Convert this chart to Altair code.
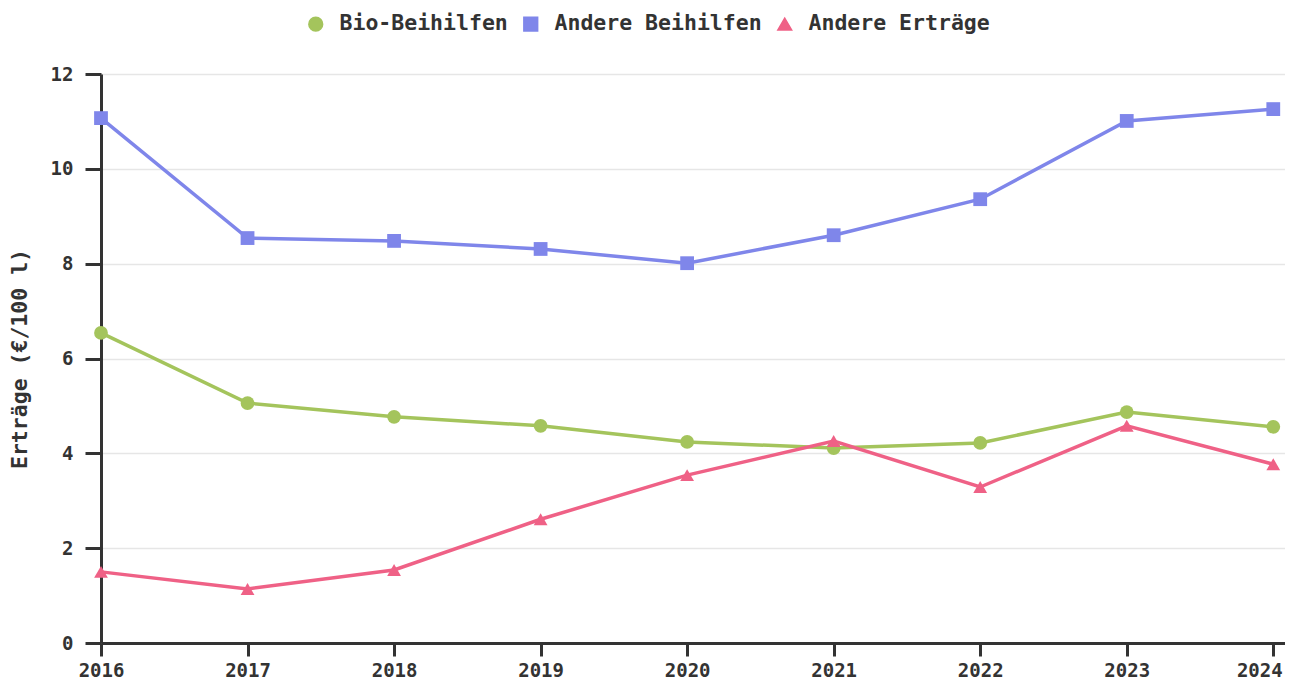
import altair as alt
import pandas as pd

years = [2016, 2017, 2018, 2019, 2020, 2021, 2022, 2023, 2024]
bio_beihilfen = [6.54, 5.06, 4.77, 4.58, 4.24, 4.11, 4.22, 4.87, 4.56]
andere_beihilfen = [11.07, 8.54, 8.48, 8.31, 8.01, 8.60, 9.36, 11.01, 11.26]
andere_ertraege = [1.50, 1.14, 1.54, 2.61, 3.54, 4.26, 3.29, 4.58, 3.77]

series_names = ["Bio-Beihilfen", "Andere Beihilfen", "Andere Erträge"]
series_colors = ["#a4c45c", "#7f86ea", "#ef6186"]
series_shapes = ["circle", "square", "triangle-up"]
y_ticks = [0, 2, 4, 6, 8, 10, 12]

rows = []
for name, vals in zip(series_names, [bio_beihilfen, andere_beihilfen, andere_ertraege]):
    for yr, v in zip(years, vals):
        rows.append({"Jahr": yr, "Serie": name, "Wert": v})
df = pd.DataFrame(rows)

FONT = "DejaVu Sans Mono"

x_enc = alt.X(
    "Jahr:Q",
    scale=alt.Scale(domain=[2016, 2024.08], nice=False, zero=False),
    axis=alt.Axis(
        values=years,
        format="d",
        title=None,
        grid=False,
        tickSize=13,
        labelPadding=5,
        labelFlush=False,
        labelOffset={"condition": {"test": "datum.value == 2024", "value": -14}, "value": 0},
    ),
)
y_enc = alt.Y(
    "Wert:Q",
    scale=alt.Scale(domain=[0, 12], nice=False),
    axis=alt.Axis(
        values=y_ticks,
        title="Erträge (€/100 l)",
        tickSize=16,
        labelPadding=12,
        titlePadding=19,
        grid=True,
    ),
)
color_enc = alt.Color(
    "Serie:N",
    scale=alt.Scale(domain=series_names, range=series_colors),
    title=None,
)
shape_enc = alt.Shape(
    "Serie:N",
    scale=alt.Scale(domain=series_names, range=series_shapes),
    title=None,
)

base = alt.Chart(df)
lines = base.mark_line(strokeWidth=3.5).encode(x=x_enc, y=y_enc, color=color_enc)
points = base.mark_point(filled=True, size=190, opacity=1).encode(
    x=x_enc, y=y_enc, color=color_enc, shape=shape_enc
)

chart = (
    alt.layer(lines, points)
    .properties(width=1184, height=569, padding={"left": 1, "top": 5, "right": 0, "bottom": 0})
    .configure_view(stroke=None)
    .configure_axis(
        domainColor="#333333",
        domainWidth=3,
        tickColor="#333333",
        tickWidth=3,
        labelFont=FONT,
        labelFontSize=19,
        labelFontWeight="bold",
        labelColor="#333333",
        titleFont=FONT,
        titleFontSize=21.5,
        titleFontWeight="bold",
        titleColor="#333333",
        gridColor="#e6e6e6",
        gridWidth=1.5,
    )
    .configure_legend(
        orient="none",
        legendX=204,
        legendY=-61,
        direction="horizontal",
        padding=0,
        labelFont=FONT,
        labelFontSize=21.5,
        labelFontWeight="bold",
        labelColor="#333333",
        labelLimit=0,
        symbolSize=190,
        labelOffset=13,
        columnPadding=12,
    )
)

chart.save("out.html", embed_options={"renderer": "svg", "actions": False})
